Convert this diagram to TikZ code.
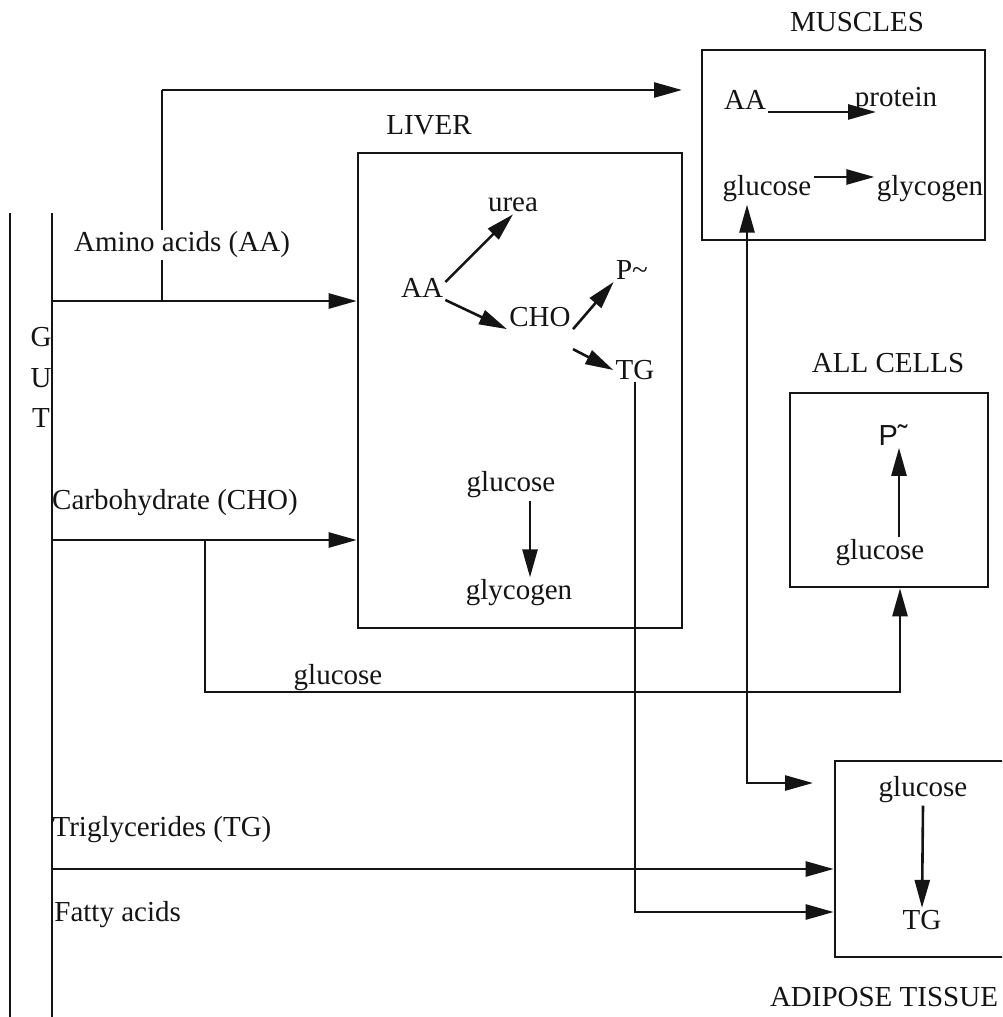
\documentclass[tikz,border=0pt]{standalone}
\usepackage{fontspec}
\setmainfont{Liberation Serif}
\newfontfamily\cellsans{Liberation Sans}
\usepackage{tikz}
\usetikzlibrary{arrows.meta,calc}
\definecolor{ScanInk}{HTML}{141414}
\tikzset{
  organ/.style={draw=ScanInk,line width=1.3pt,inner sep=0pt},
  lab/.style={font=\fontsize{14.5}{17}\selectfont,inner sep=1pt,text=ScanInk},
  wall/.style={ScanInk,line width=1.3pt},
  flow/.style={ScanInk,line width=1.3pt,-{Triangle[length=14pt,width=7.5pt]}},
  twoway/.style={ScanInk,line width=1.3pt,{Triangle[length=14pt,width=7.5pt]}-{Triangle[length=14pt,width=7.5pt]}}
}

\begin{document}
\begin{tikzpicture}[x=0.5pt,y=-0.5pt]
\clip (0,0) rectangle (1002,1017);
% gut wall
\draw[wall] (10,213)--(10,1017);
\draw[wall] (52,213)--(52,1017);
\node[lab] (gutG) at (41,337) {G};
\node[lab] (gutU) at (41,378) {U};
\node[lab] (gutT) at (41,418) {T};
% organ boxes
\node[organ,minimum width=141.5pt,minimum height=95pt] (muscles) at (843.5,145) {};
\node[organ,minimum width=162pt,minimum height=237.5pt] (liver) at (520,390.5) {};
\node[organ,minimum width=99pt,minimum height=97pt] (cells) at (889,490) {};
\node[organ,minimum width=88.5pt,minimum height=98pt] (adipose) at (923.5,859) {};
\node[lab] (musTitle) at (857,22) {MUSCLES};
\node[lab] (livTitle) at (429,125) {LIVER};
\node[lab] (celTitle) at (888,363) {ALL CELLS};
\node[lab] (adiTitle) at (884,997) {ADIPOSE TISSUE};
% gut outflows
\coordinate (aaGut) at (52,301);
\coordinate (aaSplit) at (162,301);
\coordinate (aaUp) at (162,90);
\coordinate (musIn) at (682,90);
\coordinate (choGut) at (52,540);
\coordinate (choSplit) at (205,540);
\coordinate (gluTurn) at (900,692);
\coordinate (tgGut) at (52,869);
\draw[wall] (aaSplit)--(aaUp);
\draw[flow] (aaUp)--(musIn);
\node[lab,fill=white] (aaLab) at (182,245) {Amino acids (AA)};
\draw[flow] (aaGut)--(liver.west |- aaGut);
\node[lab] (choLab) at (175,503) {Carbohydrate (CHO)};
\draw[flow] (choGut)--(liver.west |- choGut);
\draw[flow] (choSplit)|-(gluTurn)--(cells.south -| gluTurn);
\node[lab] (gluLab) at (338,678) {glucose};
\node[lab] (tgLab) at (162,830) {Triglycerides (TG)};
\draw[flow] (tgGut)--(adipose.west |- tgGut);
\node[lab,anchor=west] (faLab) at (52,915) {Fatty acids};
% liver
\node[lab] (lAA) at (422,288) {AA};
\node[lab] (lUrea) at (513,205) {urea};
\node[lab] (lCHO) at (540,317) {CHO};
\node[lab] (lP) at (632,270) {P\textasciitilde};
\node[lab] (lTG) at (635,370) {TG};
\node[lab] (lGluc) at (511,485) {glucose};
\node[lab] (lGlyc) at (519,593) {glycogen};
\draw[flow] ([yshift=-3pt]lAA.north east)--(lUrea.south);
\draw[flow] (lAA.south east)--(lCHO.south west);
\draw[flow] (lCHO.south east)--(lP.south west);
\draw[flow] ([yshift=-10pt]lCHO.south east)--(lTG.west);
\draw[flow] (lGluc.south -| 530,0)--(lGlyc.north -| 530,0);
\draw[flow] (lTG.south)|-(adipose.west |- 0,912);
% muscles
\node[lab] (mAA) at (745,100) {AA};
\node[lab] (mProt) at (896,100) {protein};
\node[lab] (mGluc) at (767,189) {glucose};
\node[lab] (mGlyc) at (930,189) {glycogen};
\draw[flow] (mAA.south east)--(mAA.south east -| 876,0);
\draw[flow] ([yshift=6pt]mGluc.east)--([yshift=6pt]mGlyc.west);
\coordinate (mDrop) at (747,783);
\coordinate (adiIn) at (813,783);
\draw[twoway] (mGluc.south -| mDrop)--(mDrop)--(adiIn);
% all cells
\node[lab,font=\cellsans\fontsize{14.5}{17}\selectfont] (cP) at (893,435) {P˜};
\node[lab] (cGluc) at (880,553) {glucose};
\draw[flow] (cGluc.north -| 899,0)--(cP.south -| 899,0);
% adipose tissue
\node[lab] (aGluc) at (923,790) {glucose};
\node[lab] (aTG) at (922,920) {TG};
\draw[flow] (aGluc.south)--(aTG.north);
\end{tikzpicture}
\end{document}
